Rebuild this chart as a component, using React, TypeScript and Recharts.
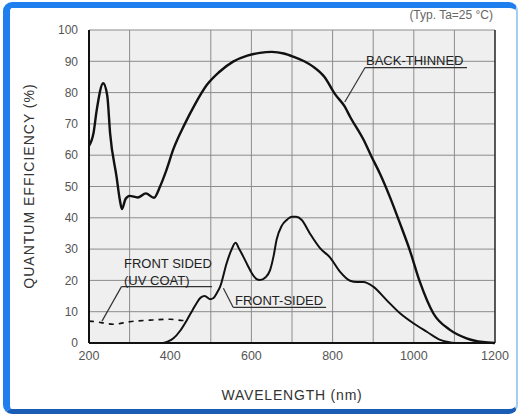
import React from 'react';
import { LineChart, Line, XAxis, YAxis, CartesianGrid, ReferenceLine } from 'recharts';

// wavelength (nm) / quantum efficiency (%)
const backWl = [200, 211, 219, 235, 245, 252, 268, 276, 281, 290, 300, 320, 340, 360, 375, 390, 408, 436, 460, 490, 520, 555, 590, 621, 650, 680, 703, 730, 752, 780, 806, 830, 843, 876, 896, 917, 941, 966, 990, 1015, 1048, 1089, 1130, 1170, 1200];
const backQe = [63, 67, 74.4, 83, 79, 67, 53, 45.7, 42.8, 46, 47, 46.5, 47.8, 46.4, 50, 55, 62, 70, 76, 82.4, 86.5, 89.9, 91.8, 92.7, 93, 92.5, 91.5, 90, 88.3, 85, 79.5, 75.5, 72.3, 65, 59.5, 54, 46.7, 38.2, 29.7, 19.5, 9.5, 4.2, 1.5, 0.3, 0];

const frontWl = [383, 395, 408, 425, 441, 455, 465, 475, 485, 498, 506, 515, 523, 539, 550, 561, 570, 580, 590, 601, 612, 621, 635, 646, 655, 662, 675, 687, 700, 710, 724, 744, 769, 794, 818, 843, 860, 876, 900, 933, 966, 999, 1032, 1065, 1090, 1100];
const frontQe = [0, 0.5, 1.5, 4, 7.3, 10.5, 12.7, 14.5, 15, 14, 14.3, 16, 18, 25.5, 29.5, 32, 30, 27.6, 25, 22.3, 20.5, 20.1, 21, 23.3, 28, 33, 37.5, 39.3, 40.3, 40.3, 39.3, 35, 30.3, 27.3, 22.8, 19.9, 19.5, 19.5, 18, 13.7, 9.5, 6.3, 3.6, 1, 0.2, 0];

const uvWl = [200, 215, 230, 260, 300, 350, 400, 430, 441];
const uvQe = [7, 6.8, 6.5, 6, 6.8, 7.3, 7.6, 7.2, 7.3];

const xTicks = [200, 300, 400, 500, 600, 700, 800, 900, 1000, 1100, 1200];
const xGrid = [300, 500, 600, 700, 800, 900, 1000, 1100];
const yTicks = [0, 10, 20, 30, 40, 50, 60, 70, 80, 90, 100];

const zip = (wl: number[], qe: number[]) => wl.map((w, i) => ({ wl: w, qe: qe[i] }));
const backData = zip(backWl, backQe);
const frontData = zip(frontWl, frontQe);
const uvData = zip(uvWl, uvQe);

const FONT = '"Liberation Sans", Arial, sans-serif';
const lead = { stroke: '#333', strokeWidth: 1.2, ifOverflow: 'visible' as const };

export default function App() {
  return (
    <div style={{ position: 'fixed', left: 0, top: 0, width: 518, height: 414, background: '#fff', fontFamily: FONT }}>
      <div
        style={{
          position: 'absolute', left: 3, top: 2, width: 515, height: 412, boxSizing: 'border-box',
          borderLeft: '7px solid #1f7fef', borderTop: '6px solid #1f7fef',
          borderBottom: '5px solid #1a5db5', borderRight: '2px solid #a6cdf2', borderRadius: 9,
        }}
      />
      <div style={{ position: 'absolute', left: 0, top: 0 }}>
        <LineChart width={518} height={414} margin={{ top: 30, right: 23, bottom: 41, left: 59 }} style={{ fontFamily: FONT }}>
          <CartesianGrid stroke="#8c8c8c" strokeWidth={1} fill="#efefef" verticalValues={xGrid} />
          <XAxis
            dataKey="wl" type="number" domain={[200, 1200]} ticks={xTicks} height={30}
            allowDuplicatedCategory={false}
            tickFormatter={(v: number) => (v % 200 === 0 ? String(v) : '')}
            tickLine={false} axisLine={{ stroke: '#111', strokeWidth: 2 }}
            tick={{ fill: '#555', fontSize: 12.5 }}
          />
          <YAxis
            type="number" domain={[0, 100]} ticks={yTicks} width={30} tickMargin={5}
            tickLine={false} axisLine={{ stroke: '#111', strokeWidth: 2 }}
            tick={{ fill: '#555', fontSize: 12 }}
          />
          <ReferenceLine x={1200} stroke="#222" strokeWidth={1.5} />
          <Line data={backData} dataKey="qe" type="monotone" stroke="#111" strokeWidth={2.4} dot={false} isAnimationActive={false} />
          <Line data={frontData} dataKey="qe" type="monotone" stroke="#111" strokeWidth={2} dot={false} isAnimationActive={false} />
          <Line data={uvData} dataKey="qe" type="monotone" stroke="#111" strokeWidth={1.6} strokeDasharray="5 5" dot={false} isAnimationActive={false} />
          {/* leader lines */}
          <ReferenceLine segment={[{ x: 830, y: 77 }, { x: 880, y: 88 }]} {...lead} />
          <ReferenceLine segment={[{ x: 880, y: 88 }, { x: 1131, y: 88 }]} {...lead} />
          <ReferenceLine segment={[{ x: 232, y: 7 }, { x: 280, y: 18 }]} {...lead} />
          <ReferenceLine segment={[{ x: 280, y: 18 }, { x: 503, y: 18 }]} {...lead} />
          <ReferenceLine segment={[{ x: 531, y: 17.5 }, { x: 555, y: 11.4 }]} {...lead} />
          <ReferenceLine segment={[{ x: 555, y: 11.4 }, { x: 784, y: 11.4 }]} {...lead} />
        </LineChart>
      </div>
      <svg width={518} height={414} style={{ position: 'absolute', left: 0, top: 0, pointerEvents: 'none' }} fontFamily={FONT}>
        <text x={493} y={19} textAnchor="end" fontSize={12} fill="#666">(Typ. Ta=25 °C)</text>
        <text x={366} y={65} fontSize={13} fill="#222">BACK-THINNED</text>
        <text x={124} y={268} fontSize={13} fill="#222">FRONT SIDED</text>
        <text x={124} y={285} fontSize={13} fill="#222">(UV COAT)</text>
        <text x={235} y={305} fontSize={13} fill="#222">FRONT-SIDED</text>
        <text x={292} y={400} textAnchor="middle" fontSize={14} letterSpacing={0.8} fill="#333">WAVELENGTH (nm)</text>
        <text x={34} y={186} transform="rotate(-90 34 186)" textAnchor="middle" fontSize={14} letterSpacing={1} fill="#333">QUANTUM EFFICIENCY (%)</text>
      </svg>
    </div>
  );
}
